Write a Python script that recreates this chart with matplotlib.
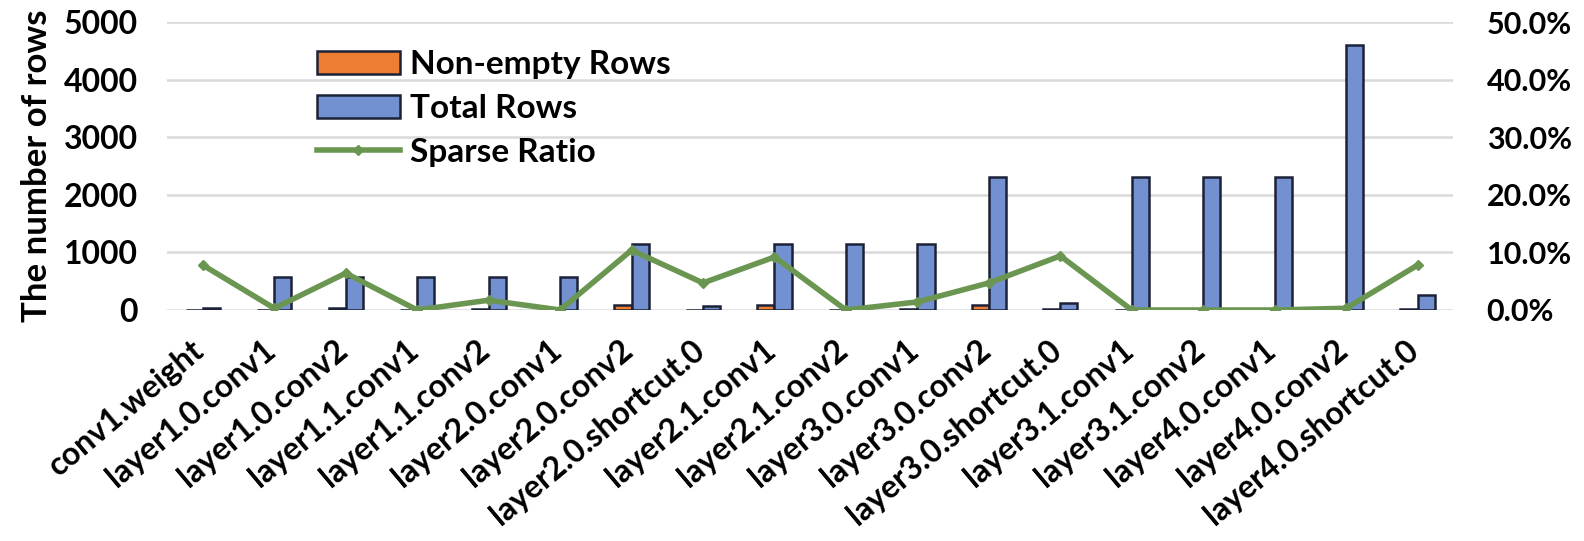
import matplotlib

matplotlib.use("Agg")
import matplotlib.pyplot as plt
import numpy as np
from matplotlib.ticker import FuncFormatter
from matplotlib.transforms import ScaledTranslation

# layer names of the ResNet-18 weights
layers = [
    "conv1.weight",
    "layer1.0.conv1",
    "layer1.0.conv2",
    "layer1.1.conv1",
    "layer1.1.conv2",
    "layer2.0.conv1",
    "layer2.0.conv2",
    "layer2.0.shortcut.0",
    "layer2.1.conv1",
    "layer2.1.conv2",
    "layer3.0.conv1",
    "layer3.0.conv2",
    "layer3.0.shortcut.0",
    "layer3.1.conv1",
    "layer3.1.conv2",
    "layer4.0.conv1",
    "layer4.0.conv2",
    "layer4.0.shortcut.0",
]
non_empty_rows = [2, 2, 37, 0, 10, 0, 90, 3, 80, 0, 16, 80, 12, 0, 0, 0, 10, 20]
total_rows = [27, 576, 576, 576, 576, 576, 1152, 64, 1152, 1152, 1152, 2304,
              128, 2304, 2304, 2304, 4608, 256]
sparse_ratio = [0.078, 0.003, 0.064, 0.0, 0.017, 0.0, 0.104, 0.047, 0.092,
                0.0, 0.014, 0.047, 0.094, 0.0, 0.0, 0.0, 0.003, 0.078]

plt.rcParams["font.family"] = ["Lato", "DejaVu Sans"]
plt.rcParams["font.weight"] = "bold"

fig = plt.figure(figsize=(15.84, 5.41), dpi=100)
ax = fig.add_axes([0.1055, 0.427, 0.812, 0.532])
ax2 = ax.twinx()

x = np.arange(len(layers))
w = 0.24
edge = "#1b2238"
b1 = ax.bar(x - w / 2, non_empty_rows, w, color="#ED7D31", edgecolor=edge,
            linewidth=1.8, label="Non-empty Rows", zorder=3)
b2 = ax.bar(x + w / 2, total_rows, w, color="#7391d0", edgecolor=edge,
            linewidth=1.8, label="Total Rows", zorder=3)
(l1,) = ax2.plot(x, sparse_ratio, color="#6b9652", linewidth=4,
                 marker="D", markersize=5, label="Sparse Ratio")

ax.set_xlim(-0.5, len(layers) - 0.5)
ax.set_ylim(0, 5000)
ax.set_yticks(range(0, 5001, 1000))
ax2.set_ylim(0, 0.5)
ax2.set_yticks(np.arange(0, 0.51, 0.1))
ax2.yaxis.set_major_formatter(FuncFormatter(lambda v, _: "{:.1f}%".format(v * 100)))

ax.grid(axis="y", color="#d9d9d9", linewidth=1.8, zorder=0)
ax.set_axisbelow(True)
for a in (ax, ax2):
    for s in a.spines.values():
        s.set_visible(False)
    a.tick_params(length=0, labelsize=23)
ax.tick_params(axis="y", pad=21)
ax2.tick_params(axis="y", pad=24, labelsize=22)

ax.set_xticks(x)
ax.set_xticklabels(layers, rotation=40, ha="right", rotation_mode="anchor",
                   fontsize=23)
ax.tick_params(axis="x", pad=18)
shift = ScaledTranslation(-0.12, 0, fig.dpi_scale_trans)
for lab in ax.get_xticklabels():
    lab.set_transform(lab.get_transform() + shift)
ax.set_ylabel("The number of rows", fontsize=25, fontweight="bold", labelpad=8)

ax.legend([b1, b2, l1], ["Non-empty Rows", "Total Rows", "Sparse Ratio"],
          loc="upper left", bbox_to_anchor=(0.106, 0.95), frameon=False,
          fontsize=24, handlelength=2.5, handleheight=0.7, labelspacing=0.45,
          handletextpad=0.3, borderaxespad=0)

fig.savefig("out.png", dpi=100)
